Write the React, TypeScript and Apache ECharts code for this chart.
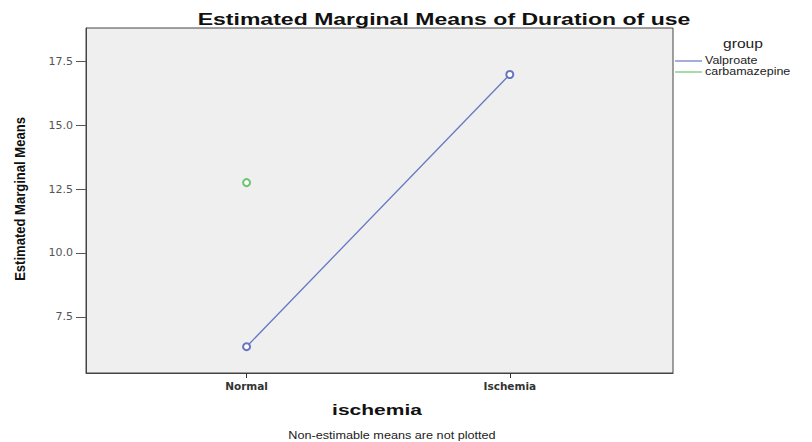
import React, { useEffect, useRef } from "react";
import * as echarts from "echarts";

const categories = ["Normal", "Ischemia"];
const valproate = [6.33, 16.98];
const carbamazepine = [12.75];
const yTicks = [7.5, 10.0, 12.5, 15.0, 17.5];
const legendNames = ["Valproate", "carbamazepine"];
const colors = ["#6577c2", "#6cc46c"];

export default function App() {
  const ref = useRef<HTMLDivElement>(null);
  useEffect(() => {
    const chart = echarts.init(ref.current!, null, { renderer: "svg" });
    chart.setOption({
      animation: false,
      backgroundColor: "#ffffff",
      grid: {
        left: 86,
        right: 139,
        top: 28,
        bottom: 69,
        show: true,
        backgroundColor: "#efefef",
        borderColor: "#444",
        borderWidth: 1,
      },
      xAxis: {
        type: "value",
        min: -0.61,
        max: 1.62,
        axisLine: { show: true, onZero: false, lineStyle: { color: "#444" } },
        axisTick: { show: true, customValues: [0, 1], length: 5, lineStyle: { color: "#333" } },
        axisLabel: {
          customValues: [0, 1],
          formatter: (v: number) => categories[Math.round(v)] ?? "",
          fontFamily: "DejaVu Sans",
          fontWeight: "bold",
          fontSize: 10.5,
          color: "#333",
          margin: 7,
        },
        splitLine: { show: false },
      },
      yAxis: {
        type: "value",
        min: 5.3,
        max: 18.8,
        axisLine: { show: true, onZero: false, lineStyle: { color: "#444" } },
        axisTick: { show: true, customValues: yTicks, length: 10, lineStyle: { color: "#555" } },
        axisLabel: {
          customValues: yTicks,
          formatter: (v: number) => v.toFixed(1),
          fontFamily: "DejaVu Sans",
          fontSize: 11,
          color: "#555",
          margin: 13,
        },
        splitLine: { show: false },
      },
      series: [
        {
          name: legendNames[0],
          type: "line",
          data: valproate.map((v, i) => [i, v]),
          symbol: "emptyCircle",
          symbolSize: 7,
          itemStyle: { color: colors[0], borderWidth: 1 },
          lineStyle: { color: colors[0], width: 1.3 },
        },
        {
          name: legendNames[1],
          type: "line",
          data: carbamazepine.map((v, i) => [i, v]),
          symbol: "emptyCircle",
          symbolSize: 7,
          itemStyle: { color: colors[1], borderWidth: 1 },
          lineStyle: { color: colors[1], width: 1.3 },
        },
      ],
      graphic: [
        {
          type: "text", x: 444, y: 19, scaleX: 1.44,
          style: { text: "Estimated Marginal Means of Duration of use", fontFamily: "Liberation Sans", fontWeight: "bold", fontSize: 16, fill: "#111", align: "center", verticalAlign: "middle" },
        },
        {
          type: "text", x: 20, y: 199, rotation: Math.PI / 2, scaleX: 0.87,
          style: { text: "Estimated Marginal Means", fontFamily: "Liberation Sans", fontWeight: "bold", fontSize: 15, fill: "#111", align: "center", verticalAlign: "middle" },
        },
        {
          type: "text", x: 377, y: 410, scaleX: 1.5,
          style: { text: "ischemia", fontFamily: "Liberation Sans", fontWeight: "bold", fontSize: 14, fill: "#111", align: "center", verticalAlign: "middle" },
        },
        {
          type: "text", x: 743, y: 44, scaleX: 1.3,
          style: { text: "group", fontFamily: "Liberation Sans", fontSize: 12, fill: "#222", align: "center", verticalAlign: "middle" },
        },
        { type: "line", shape: { x1: 675, y1: 61, x2: 702, y2: 61 }, style: { stroke: colors[0], lineWidth: 1.2 } },
        {
          type: "text", x: 705, y: 60, scaleX: 1.25,
          style: { text: legendNames[0], fontFamily: "Liberation Sans", fontSize: 10, fill: "#222", align: "left", verticalAlign: "middle" },
        },
        { type: "line", shape: { x1: 675, y1: 72, x2: 702, y2: 72 }, style: { stroke: colors[1], lineWidth: 1.2 } },
        {
          type: "text", x: 705, y: 71, scaleX: 1.25,
          style: { text: legendNames[1], fontFamily: "Liberation Sans", fontSize: 10, fill: "#222", align: "left", verticalAlign: "middle" },
        },
        {
          type: "text", x: 392, y: 435, scaleX: 1.15,
          style: { text: "Non-estimable means are not plotted", fontFamily: "Liberation Sans", fontSize: 11, fill: "#222", align: "center", verticalAlign: "middle" },
        },
      ],
    });
    return () => chart.dispose();
  }, []);
  return <div ref={ref} style={{ width: 812, height: 442, position: "absolute", left: 0, top: 0 }} />;
}
